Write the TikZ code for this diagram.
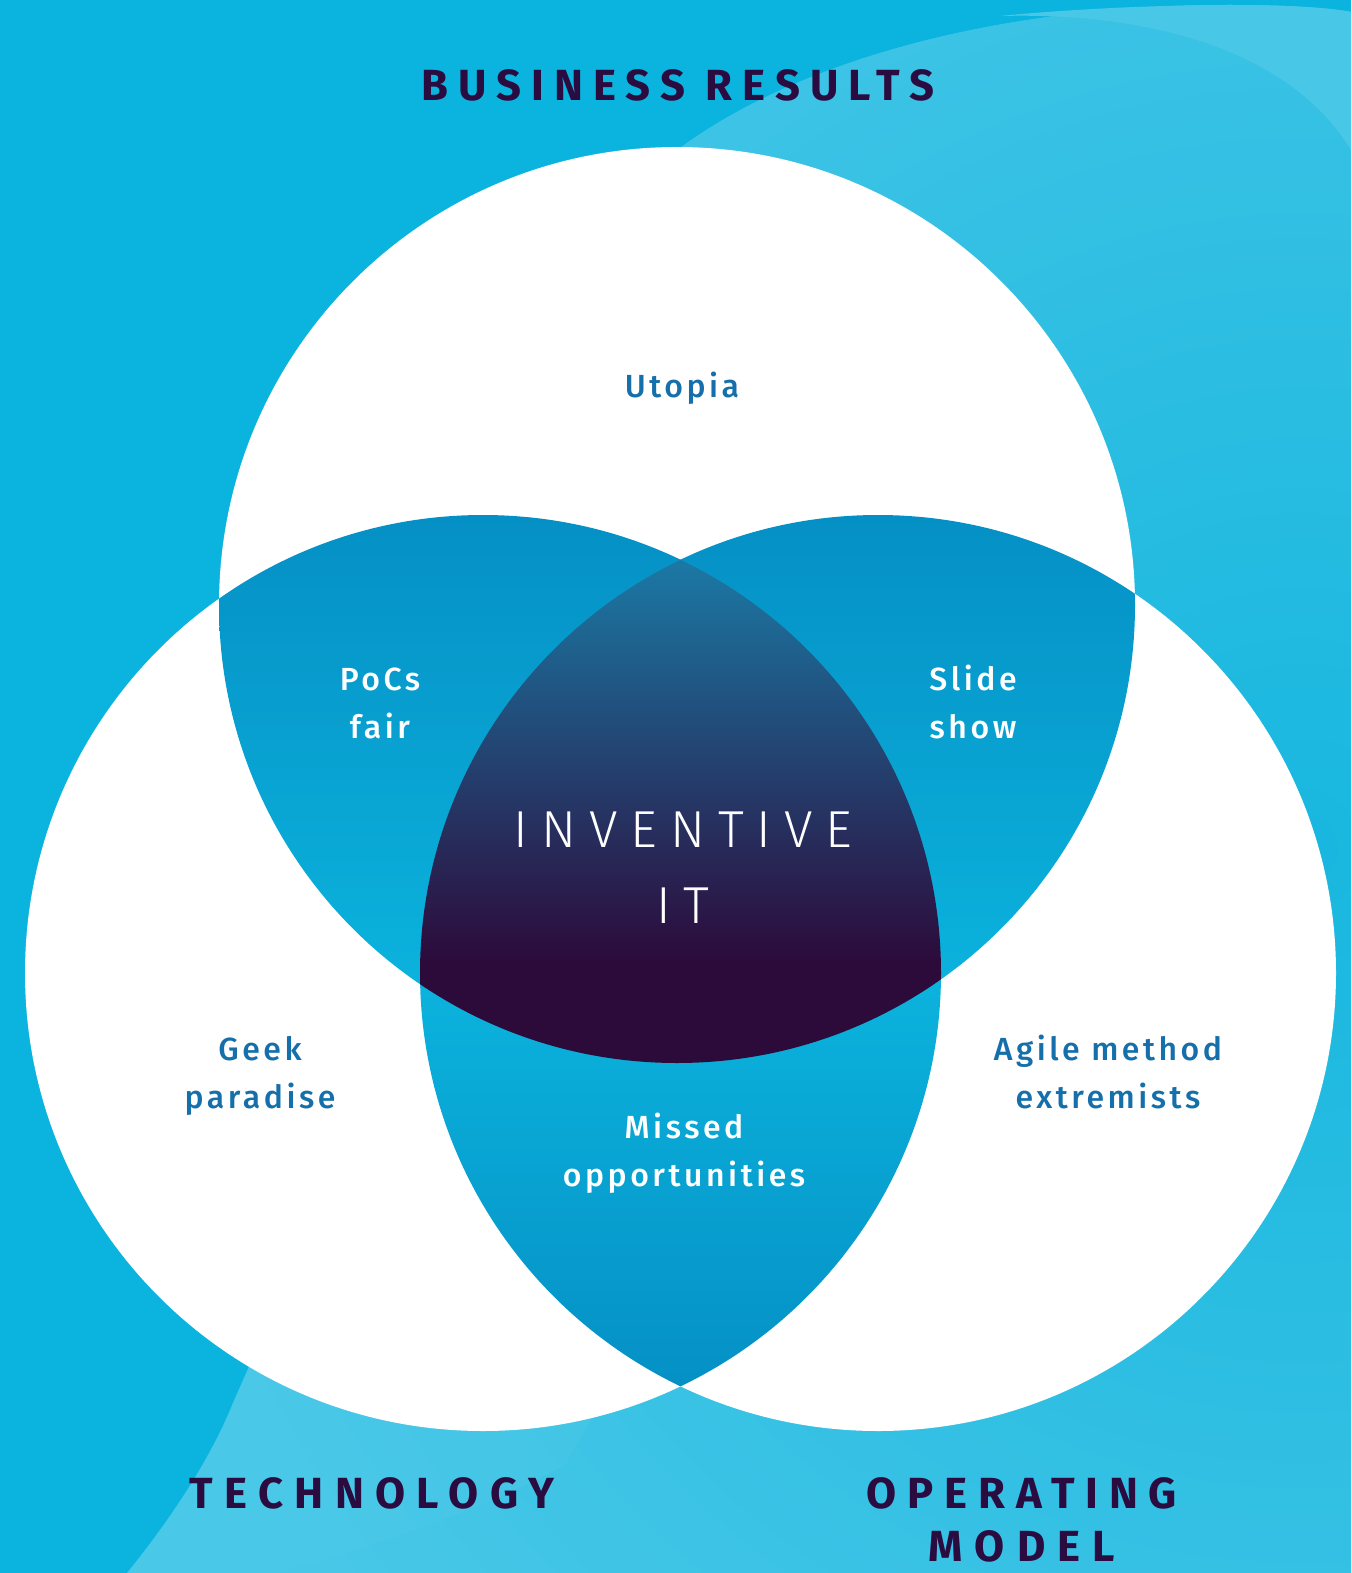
\documentclass[tikz,border=0pt]{standalone}
\usepackage{fontspec}
\setmainfont{Fira Sans}
\newfontfamily\titlefont[LetterSpace=24]{Fira Sans Bold}
\newfontfamily\labelfont[LetterSpace=11]{Fira Sans Medium}
\newfontfamily\thinfont[LetterSpace=25]{Fira Sans Light}
\definecolor{bg}{HTML}{0BB4DE}
\definecolor{glowIn}{HTML}{18B7DF}
\definecolor{glowOut}{HTML}{48C7E7}
\definecolor{bandcol}{HTML}{4FCAE9}
\definecolor{lensTop}{HTML}{0590C5}
\definecolor{lensBot}{HTML}{0BB3DD}
\definecolor{ctrTop}{HTML}{1B7AA6}
\definecolor{ctrBot}{HTML}{2C0B3B}
\definecolor{titlecol}{HTML}{2A0C40}
\definecolor{labelcol}{HTML}{156FAB}
\tikzset{
  title/.style={font=\titlefont\fontsize{21.8}{26}\selectfont, text=titlecol, anchor=base, inner sep=0pt},
  bluelabel/.style={font=\labelfont\fontsize{16}{20}\selectfont, text=labelcol, anchor=base, inner sep=0pt},
  whitelabel/.style={font=\labelfont\fontsize{16}{20}\selectfont, text=white, anchor=base, inner sep=0pt},
  bigthin/.style={font=\thinfont\fontsize{26}{30}\selectfont, text=white, anchor=base, inner sep=0pt},
  bigcircle/.style={radius=229pt}
}
\begin{document}
\begin{tikzpicture}[x=0.5pt,y=-0.5pt]
\useasboundingbox (0,0) rectangle (1351,1573);
\fill[bg] (0,0) rectangle (1351,1573);
% light background sweep
\begin{scope}
  \clip (127,1573) .. controls (170,1520) and (210,1460) .. (233,1403) -- (420,980) -- (600,320)
     .. controls (620,250) and (650,180) .. (680,148)
     .. controls (800,60) and (1000,5) .. (1230,5)
     .. controls (1290,5) and (1330,8) .. (1351,12) -- (1351,1573) -- cycle;
  \fill[glowOut] (0,0) rectangle (1351,1573);
  \shade[inner color=glowIn, outer color=glowOut] (1300,850) circle[radius=600pt];
\end{scope}
\fill[bandcol, opacity=0.35] (127,1573) .. controls (170,1520) and (210,1460) .. (233,1403) -- (420,1000)
   -- (600,1405) -- (565,1465) .. controls (480,1510) and (380,1545) .. (277,1573) -- cycle;
\fill[glowOut] (1000,16) .. controls (1150,12) and (1290,50) .. (1351,150) -- (1351,12)
   .. controls (1330,8) and (1290,5) .. (1230,5) .. controls (1150,5) and (1060,10) .. (1000,16) -- cycle;
% circles
\coordinate (ct) at (677,605);
\coordinate (cl) at (483,973);
\coordinate (cr) at (878,973);
\fill[white] (ct) circle[bigcircle];
\fill[white] (cl) circle[bigcircle];
\fill[white] (cr) circle[bigcircle];
% pairwise lenses
\begin{scope}
  \clip (ct) circle[bigcircle];
  \clip (cl) circle[bigcircle];
  \shade[top color=lensTop, bottom color=lensBot] (200,515) rectangle (700,990);
\end{scope}
\begin{scope}
  \clip (ct) circle[bigcircle];
  \clip (cr) circle[bigcircle];
  \shade[top color=lensTop, bottom color=lensBot] (660,515) rectangle (1150,990);
\end{scope}
\begin{scope}
  \clip (cl) circle[bigcircle];
  \clip (cr) circle[bigcircle];
  \shade[top color=lensBot, bottom color=lensTop] (400,980) rectangle (960,1390);
  \fill[lensBot] (400,550) rectangle (960,981);
\end{scope}
% center
\begin{scope}
  \clip (ct) circle[bigcircle];
  \clip (cl) circle[bigcircle];
  \clip (cr) circle[bigcircle];
  \shade[top color=ctrTop, bottom color=ctrBot] (400,555) rectangle (960,960);
  \fill[ctrBot] (400,959) rectangle (960,1080);
\end{scope}
% titles
\node[title] (business) at (678,101) {\addfontfeature{LetterSpace=23}BUSINESS RESULTS};
\node[title] (technology) at (372,1508) {\addfontfeature{LetterSpace=26}TECHNOLOGY};
\node[title] (operating) at (1022,1508) {\addfontfeature{LetterSpace=25}OPERATING};
\node[title] (model) at (1022,1561) {\addfontfeature{LetterSpace=28}MODEL};
% labels
\node[bluelabel] (utopia) at (682,397) {Utopia};
\node[whitelabel] (pocs1) at (380,690) {PoCs};
\node[whitelabel] (pocs2) at (380,738) {fair};
\node[whitelabel] (slide1) at (973,690) {Slide};
\node[whitelabel] (slide2) at (973,738) {show};
\node[bluelabel] (geek1) at (260,1060) {Geek};
\node[bluelabel] (geek2) at (260,1108) {paradise};
\node[bluelabel] (agile1) at (1108,1060) {Agile method};
\node[bluelabel] (agile2) at (1108,1108) {extremists};
\node[whitelabel] (missed1) at (684,1138) {Missed};
\node[whitelabel] (missed2) at (684,1186) {opportunities};
\node[bigthin] (inventive) at (683,847) {INVENTIVE};
\node[bigthin] (it) at (683,923) {IT};
\end{tikzpicture}
\end{document}
